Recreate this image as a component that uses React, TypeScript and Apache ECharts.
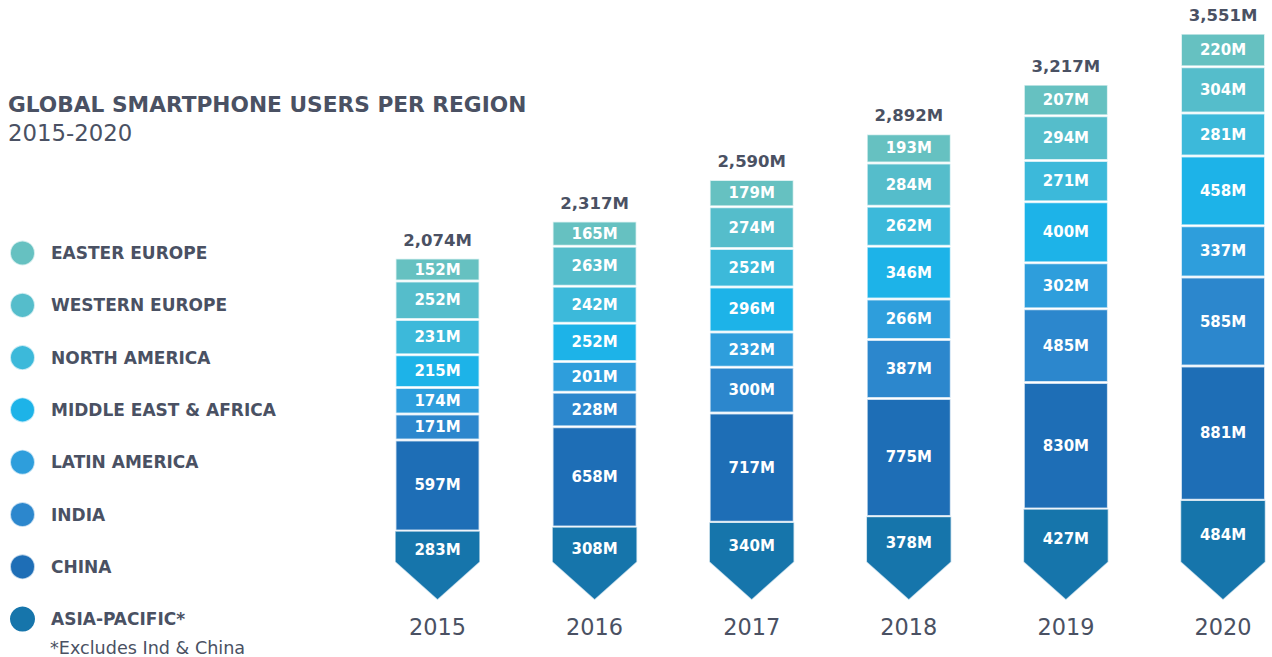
import React, { useEffect, useRef } from "react";
import * as echarts from "echarts";

const years = ["2015", "2016", "2017", "2018", "2019", "2020"];
const asiaPacific = [283, 308, 340, 378, 427, 484];
const china = [597, 658, 717, 775, 830, 881];
const india = [171, 228, 300, 387, 485, 585];
const latinAmerica = [174, 201, 232, 266, 302, 337];
const middleEastAfrica = [215, 252, 296, 346, 400, 458];
const northAmerica = [231, 242, 252, 262, 271, 281];
const westernEurope = [252, 263, 274, 284, 294, 304];
const easternEurope = [152, 165, 179, 193, 207, 220];
const totals = [2074, 2317, 2590, 2892, 3217, 3551];

const regionNames = [
  "ASIA-PACIFIC*",
  "CHINA",
  "INDIA",
  "LATIN AMERICA",
  "MIDDLE EAST & AFRICA",
  "NORTH AMERICA",
  "WESTERN EUROPE",
  "EASTER EUROPE",
];
const regionColors = [
  "#1675ab",
  "#1e6eb6",
  "#2c87cd",
  "#2e9edc",
  "#1db3e8",
  "#3cb9da",
  "#55bdcb",
  "#66c1c1",
];
const regionValues = [
  asiaPacific,
  china,
  india,
  latinAmerica,
  middleEastAfrica,
  northAmerica,
  westernEurope,
  easternEurope,
];

const TEXT = "#4a5163";
const FONT = "'DejaVu Sans'";
const BAR_W = 85;

export default function App() {
  const ref = useRef<HTMLDivElement>(null);

  useEffect(() => {
    document.body.style.margin = "0";
    const chart = echarts.init(ref.current!, null, { renderer: "svg" });

    const barSeries: any[] = regionNames.map((name, i) => ({
      name,
      type: "bar",
      stack: "total",
      barWidth: BAR_W,
      data: regionValues[i],
      itemStyle: {
        color: i === 0 ? "rgba(0,0,0,0)" : regionColors[i],
        borderColor: i === 0 ? "rgba(0,0,0,0)" : "rgba(255,255,255,0.7)",
        borderWidth: 1.5,
      },
      label: {
        show: true,
        position: "inside",
        offset: i === 0 ? [0, -2] : [0, 0],
        formatter: (p: any) => p.value + "M",
        color: "#ffffff",
        fontFamily: FONT,
        fontWeight: "bold",
        fontSize: 15,
      },
      z: 3,
    }));

    const arrowSeries = {
      name: "arrows",
      type: "custom",
      clip: false,
      z: 2,
      data: years.map((_, i) => [i, asiaPacific[i], totals[i]]),
      renderItem: (params: any, api: any) => {
        const idx = api.value(0);
        const top = api.coord([idx, api.value(1)]);
        const base = api.coord([idx, 0]);
        const totalPt = api.coord([idx, api.value(2)]);
        const cx = base[0];
        const l = cx - BAR_W / 2;
        const r = cx + BAR_W / 2;
        return {
          type: "group",
          children: [
            {
              type: "polygon",
              shape: {
                points: [
                  [l, top[1]],
                  [r, top[1]],
                  [r, base[1] - 12],
                  [cx, base[1] + 26],
                  [l, base[1] - 12],
                ],
              },
              style: {
                fill: regionColors[0],
                stroke: "rgba(255,255,255,0.7)",
                lineWidth: 1.5,
              },
            },
            {
              type: "text",
              x: cx,
              y: totalPt[1] - 18,
              style: {
                text: totals[idx].toLocaleString("en-US") + "M",
                fill: TEXT,
                font: `bold 16.5px ${FONT}`,
                align: "center",
                verticalAlign: "middle",
              },
            },
          ],
        };
      },
    };

    chart.setOption({
      animation: false,
      legend: {
        orient: "vertical",
        left: 9,
        top: 239.5,
        padding: 0,
        itemWidth: 25,
        itemHeight: 25,
        itemGap: 25.3,
        icon: "circle",
        selectedMode: false,
        data: regionNames
          .map((n, i) => ({ name: n, itemStyle: { color: regionColors[i] } }))
          .reverse(),
        textStyle: {
          fontFamily: FONT,
          fontWeight: "bold",
          fontSize: 17,
          color: TEXT,
          padding: [0, 0, 0, 11],
        },
      },
      graphic: [
        {
          type: "text",
          x: 8,
          y: 104,
          style: {
            text: "GLOBAL SMARTPHONE USERS PER REGION",
            fill: TEXT,
            font: `bold 21.7px ${FONT}`,
            verticalAlign: "middle",
          },
        },
        {
          type: "text",
          x: 8,
          y: 133,
          style: {
            text: "2015-2020",
            fill: TEXT,
            font: `22.8px ${FONT}`,
            verticalAlign: "middle",
          },
        },
        {
          type: "text",
          x: 50,
          y: 648,
          style: {
            text: "*Excludes Ind & China",
            fill: TEXT,
            font: `17.6px ${FONT}`,
            verticalAlign: "middle",
          },
        },
      ],
      grid: {
        left: 437.5,
        width: 785.5,
        top: 25.7,
        height: 548.3,
      },
      xAxis: {
        type: "category",
        data: years,
        boundaryGap: false,
        axisLine: { show: false },
        axisTick: { show: false },
        axisLabel: {
          margin: 41.5,
          fontFamily: FONT,
          fontSize: 22.4,
          color: TEXT,
        },
      },
      yAxis: {
        type: "value",
        min: 0,
        max: 3600,
        show: false,
        splitLine: { show: false },
      },
      series: [arrowSeries, ...barSeries],
    });

    return () => chart.dispose();
  }, []);

  return <div ref={ref} style={{ width: 1272, height: 657 }} />;
}
